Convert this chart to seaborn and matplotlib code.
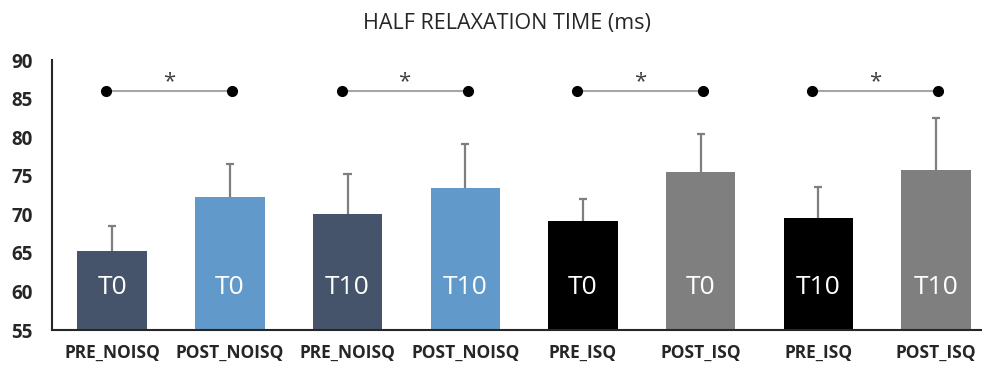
import matplotlib
matplotlib.use("Agg")
import matplotlib.pyplot as plt
import seaborn as sns
import pandas as pd
import numpy as np

# Group labels, session labels and measured means / SD
groups = ["PRE_NOISQ", "POST_NOISQ", "PRE_NOISQ", "POST_NOISQ",
          "PRE_ISQ", "POST_ISQ", "PRE_ISQ", "POST_ISQ"]
sessions = ["T0", "T0", "T10", "T10", "T0", "T0", "T10", "T10"]
means = [65.3, 72.3, 70.1, 73.4, 69.1, 75.5, 69.5, 75.8]
sds = [3.2, 4.2, 5.1, 5.7, 2.9, 4.9, 4.0, 6.7]
bar_colors = ["#46546B", "#6299CB", "#46546B", "#6299CB",
              "#000000", "#7F7F7F", "#000000", "#7F7F7F"]

# Significant pre/post comparisons (index pairs) and their bracket level
sig_pairs = [(0, 1), (2, 3), (4, 5), (6, 7)]
sig_level = 86.0
ylim = (55, 90)
yticks = [55, 60, 65, 70, 75, 80, 85, 90]

df = pd.DataFrame({
    "slot": [f"{g}|{s}|{i}" for i, (g, s) in enumerate(zip(groups, sessions))],
    "value": means,
})

sns.set_style("white")
plt.rcParams["font.family"] = ["Open Sans", "DejaVu Sans"]

fig = plt.figure(figsize=(9.82, 3.67), dpi=100)
ax = fig.add_axes([0.053, 0.1008, 0.947, 0.7357])

sns.barplot(data=df, x="slot", y="value", hue="slot", palette=bar_colors,
            legend=False, width=0.59, saturation=1, linewidth=0, ax=ax)

xs = np.arange(len(means))
tops = np.array(means) + np.array(sds)
# Upper-only error bars with a cap at the top
ax.vlines(xs, means, tops, color="#7F7F7F", lw=1.6, zorder=3)
ax.hlines(tops, xs - 0.035, xs + 0.035, color="#7F7F7F", lw=1.6, zorder=3)

# Session labels inside bars
for x, s in zip(xs, sessions):
    ax.text(x, 60.45, s, color="white", fontsize=19, ha="center", va="center",
            family=["Open Sans", "DejaVu Sans"])

# Significance brackets
for a, b in sig_pairs:
    xa, xb = a - 0.05, b + 0.02
    ax.plot([xa, xb], [sig_level, sig_level], color="#A6A6A6", lw=1.5,
            zorder=2, solid_capstyle="butt")
    ax.plot([xa, xb], [sig_level, sig_level], "o", color="black",
            markersize=7, zorder=3)
    ax.text((xa + xb) / 2, sig_level + 1.2, "*", fontsize=16, ha="center",
            va="center", color="#404040")

ax.set_ylim(*ylim)
ax.set_xlim(-0.51, 7.39)
ax.set_yticks(yticks)
ax.set_xticks(xs)
ax.set_xticklabels(groups)
ax.set_xlabel("")
ax.set_ylabel("")
ax.tick_params(axis="both", length=0)
ax.tick_params(axis="y", pad=14, labelsize=13.5, labelcolor="#262626")
ax.tick_params(axis="x", pad=10, labelsize=12.5, labelcolor="#262626")
for lab in ax.get_xticklabels() + ax.get_yticklabels():
    lab.set_fontweight("bold")

for side in ["top", "right"]:
    ax.spines[side].set_visible(False)
for side in ["left", "bottom"]:
    ax.spines[side].set_color("#262626")
    ax.spines[side].set_linewidth(1.5)

fig.text(0.516, 0.935, "HALF RELAXATION TIME (ms)", ha="center", va="center",
         fontsize=15.5, color="#262626")

fig.savefig("out.png", dpi=100)
